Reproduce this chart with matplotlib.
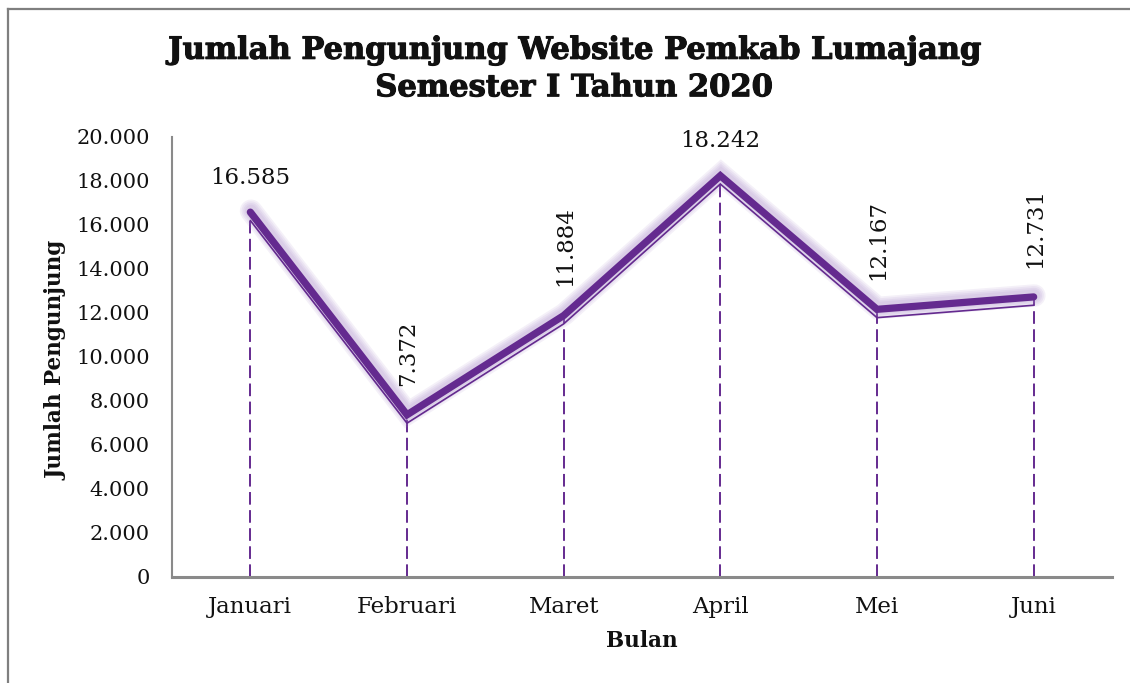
import matplotlib
matplotlib.use("Agg")
import matplotlib.pyplot as plt
import matplotlib.patheffects as pe
from matplotlib.lines import Line2D

months = ["Januari", "Februari", "Maret", "April", "Mei", "Juni"]
visitors = [16585, 7372, 11884, 18242, 12167, 12731]
yticks = [0, 2000, 4000, 6000, 8000, 10000, 12000, 14000, 16000, 18000, 20000]
title = "Jumlah Pengunjung Website Pemkab Lumajang\nSemester I Tahun 2020"
xlabel = "Bulan"
ylabel = "Jumlah Pengunjung"
rotated = [False, True, True, False, True, True]

PURPLE = "#642a8f"
GLOW = "#a888c8"
GRAY = "#8a8a8a"
FONT = "DejaVu Serif"

def fmt(v):
    return f"{v:,}".replace(",", ".")

W, H = 1130, 683
fig = plt.figure(figsize=(W / 100, H / 100), dpi=100)
fig.patch.set_facecolor("white")

# figure border (left and top visible)
fig.lines.append(Line2D([7.5 / W, 7.5 / W], [0, 1 - 8.5 / H], transform=fig.transFigure,
                        color="#7f7f7f", linewidth=1.6, solid_capstyle="projecting"))
fig.lines.append(Line2D([7.5 / W, 1], [1 - 8.5 / H, 1 - 8.5 / H], transform=fig.transFigure,
                        color="#7f7f7f", linewidth=1.6, solid_capstyle="projecting"))

ax = fig.add_axes([172 / W, (H - 577) / H, (1112 - 172) / W, (577 - 137) / H])
x = list(range(len(months)))

ax.set_xlim(-0.5, len(months) - 0.5)
ax.set_ylim(0, 20000)

# drop lines
ax.vlines(x, 0, visitors, colors=PURPLE, linewidth=1.4, linestyles=(0, (6.5, 2.8)), zorder=2)

glow_effects = [pe.Stroke(offset=(0.5, 1), linewidth=5.2 + k, foreground=GLOW, alpha=0.12)
                for k in (11, 8.5, 6, 3.5)]
effects = glow_effects + [
    pe.Stroke(offset=(0, -6.0), linewidth=1.2, foreground=PURPLE),
    pe.Normal(),
]
ax.plot(x, visitors, color=PURPLE, linewidth=5.2, solid_capstyle="round",
        solid_joinstyle="miter", zorder=3, path_effects=effects)

for xi, v, rot in zip(x, visitors, rotated):
    if rot:
        ax.annotate(fmt(v), (xi, v), xytext=(1, 21), textcoords="offset points",
                    ha="center", va="bottom", rotation=90, fontsize=16.5,
                    family=FONT, color="#111111", zorder=4)
    else:
        ax.annotate(fmt(v), (xi, v), xytext=(0, 17), textcoords="offset points",
                    ha="center", va="bottom", fontsize=16.5,
                    family=FONT, color="#111111", zorder=4)

ax.set_xticks(x)
ax.set_xticklabels(months, family=FONT, fontsize=16.5, color="#111111")
ax.set_yticks(yticks)
ax.set_yticklabels([fmt(t) for t in yticks], family=FONT, fontsize=15, color="#111111")
ax.tick_params(axis="both", length=0)
ax.tick_params(axis="y", pad=16)
ax.tick_params(axis="x", pad=14)

for s in ("top", "right"):
    ax.spines[s].set_visible(False)
ax.spines["left"].set_color(GRAY)
ax.spines["left"].set_linewidth(1.5)
ax.spines["bottom"].set_color(GRAY)
ax.spines["bottom"].set_linewidth(2.2)

fig.text(642 / W, 1 - 641 / H, xlabel, ha="center", va="center", family=FONT,
         fontweight="bold", fontsize=15.5, color="#111111")
fig.text(57 / W, 1 - 360 / H, ylabel, ha="center", va="center", rotation=90, family=FONT,
         fontweight="bold", fontsize=15.5, color="#111111")
fig.text(574 / W, 1 - 69 / H, title, ha="center", va="center", family=FONT,
         fontweight="bold", fontsize=22, color="#111111", linespacing=1.27,
         path_effects=[pe.withStroke(linewidth=0.8, foreground="#111111")])

fig.savefig("out.png", dpi=100, facecolor="white")
